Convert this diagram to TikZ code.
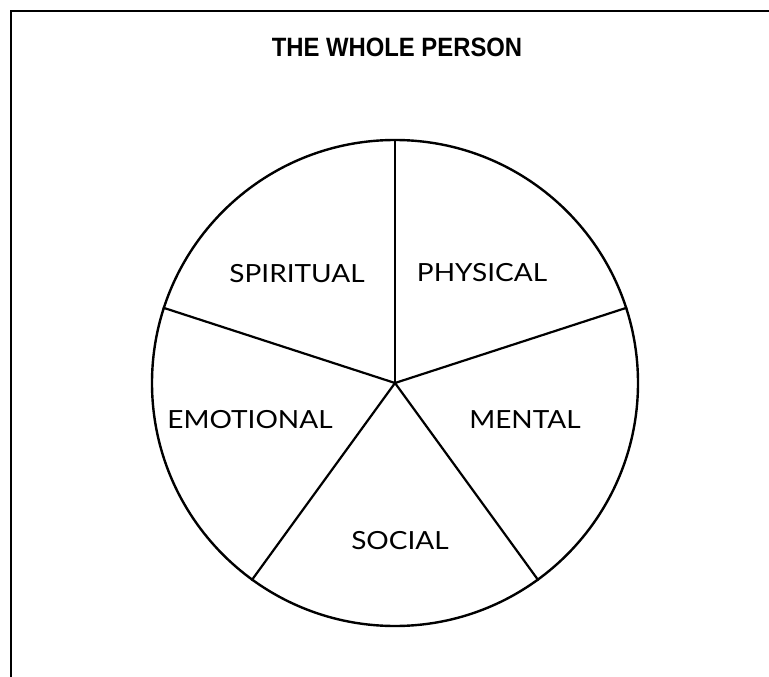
\documentclass[tikz,border=0pt]{standalone}
\usepackage{fontspec}
\setmainfont{Liberation Sans}
\newfontfamily\labelfont{Lato}
\newcommand{\seglabel}[1]{\scalebox{1.12}[1]{#1}}
\begin{document}
\begin{tikzpicture}[x=1pt,y=-1pt,
  seg/.style={font=\labelfont\fontsize{25}{25}\selectfont,inner sep=0pt,anchor=center},
  ttl/.style={font=\bfseries\fontsize{26.5}{26.5}\selectfont,inner sep=0pt}]
\useasboundingbox (0,0) rectangle (769,677);
\coordinate (fbl) at (11,677);
\coordinate (ftl) at (11,11);
\coordinate (ftr) at (769,11);
\draw[line width=2.4pt] (fbl) -- (ftl) -- (ftr);
\node[ttl] (title) at (397,47) {\scalebox{0.9}[1]{THE WHOLE PERSON}};
\coordinate (c) at (395,383);
\node[draw,line width=2.4pt,circle,minimum size=486pt,inner sep=0pt] (circ) at (c) {};
\foreach \a in {90,18,-54,-126,162} \draw[line width=2.2pt] (c) -- (circ.\a);
\node[seg] (spiritual) at (297,274) {\seglabel{SPIRITUAL}};
\node[seg] (physical) at (482,273) {\seglabel{PHYSICAL}};
\node[seg] (emotional) at (250,420) {\seglabel{EMOTIONAL}};
\node[seg] (mental) at (525,420) {\seglabel{MENTAL}};
\node[seg] (social) at (400,541) {\seglabel{SOCIAL}};
\end{tikzpicture}
\end{document}
